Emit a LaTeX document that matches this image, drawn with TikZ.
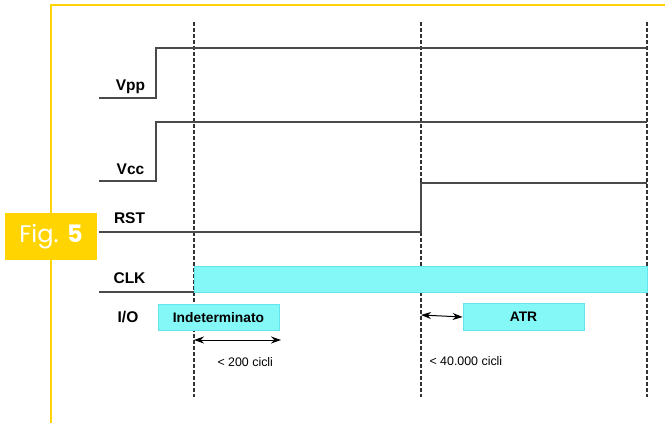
\documentclass[tikz,border=0pt]{standalone}
\usepackage{fontspec}
\setmainfont{Liberation Sans}
\newfontfamily\figfont{Poppins}
\usetikzlibrary{arrows.meta}
\definecolor{frameyellow}{HTML}{FFD400}
\definecolor{sigcol}{HTML}{4A4A4A}
\definecolor{guidecol}{HTML}{333333}
\definecolor{cyanfill}{HTML}{84F7F7}
\definecolor{cyanedge}{HTML}{62E6EE}
\tikzset{
  sig/.style={draw=sigcol, line width=1.8pt},
  guide/.style={draw=guidecol, line width=1.5pt, dash pattern=on 3.6pt off 2.4pt},
  bar/.style={fill=cyanfill, draw=cyanedge, line width=0.8pt},
  siglabel/.style={font=\bfseries\fontsize{15.5}{15.5}\selectfont, anchor=base},
  boxlabel/.style={font=\bfseries\fontsize{13.8}{14}\selectfont},
  note/.style={font=\fontsize{12.4}{13}\selectfont, anchor=base west},
  span/.style={draw=sigcol, line width=1pt, {Stealth[length=10pt,width=7pt]}-{Stealth[length=10pt,width=7pt]}, black}
}
\begin{document}
\begin{tikzpicture}[x=1pt, y=-1pt]
\useasboundingbox (0,0) rectangle (665,423);

% frame
\draw[frameyellow, line width=1.5pt] (51,423) -- (51,5) -- (665,5);

% caption tab
\node[fill=frameyellow, minimum width=92pt, minimum height=47pt, inner sep=0pt,
      text=white, font=\figfont\fontsize{24}{24}\selectfont] (fig) at (51,236.5)
  {Fig. \textbf{5}};

% time markers
\coordinate (t0top) at (194,22);   \coordinate (t0bot) at (194,397);
\coordinate (t1top) at (421,22);   \coordinate (t1bot) at (421,397);
\coordinate (t2top) at (647,22);   \coordinate (t2bot) at (647,397);
\draw[guide] (t0top) -- (t0bot);
\draw[guide] (t1top) -- (t1bot);
\draw[guide] (t2top) -- (t2bot);

% signal names
\node[siglabel] (vpp) at (130.5,90) {Vpp};
\node[siglabel] (vcc) at (130.5,174) {Vcc};
\node[siglabel] (rst) at (129.5,223) {RST};
\node[siglabel] (clk) at (129.5,283) {CLK};
\node[siglabel] (io)  at (128,322) {I/O};

% Vpp
\coordinate (vppA) at (99,98);  \coordinate (vppB) at (156,98);
\coordinate (vppC) at (156,48); \coordinate (vppD) at (647,48);
\draw[sig] (vppA) -- (vppB) -- (vppC) -- (vppD);

% Vcc
\coordinate (vccA) at (99,181);  \coordinate (vccB) at (156,181);
\coordinate (vccC) at (156,122); \coordinate (vccD) at (647,122);
\draw[sig] (vccA) -- (vccB) -- (vccC) -- (vccD);

% RST
\coordinate (rstA) at (99,232);  \coordinate (rstB) at (421,232);
\coordinate (rstC) at (421,183); \coordinate (rstD) at (647,183);
\draw[sig] (rstA) -- (rstB) -- (rstC) -- (rstD);

% CLK
\coordinate (clkA) at (99,292);  \coordinate (clkB) at (194,292);
\draw[sig] (clkA) -- (clkB);
\draw[bar] (194,266) rectangle (647,292);

% I/O
\node[bar, boxlabel, minimum width=121pt, minimum height=26pt, inner sep=0pt]
  (indet) at (218.5,317.5) {Indeterminato};
\node[bar, boxlabel, minimum width=121pt, minimum height=27pt, inner sep=0pt]
  (atr) at (523.5,317) {ATR};

% timing limits
\coordinate (s0a) at (194,340); \coordinate (s0b) at (281,340);
\draw[span] (s0a) -- (s0b);
\coordinate (s1a) at (421,315);
\draw[span] (s1a) -- (atr.west);

\node[note] (n200) at (214,366) {< 200 cicli};
\node[note] (n40k) at (426,365) {< 40.000 cicli};
\end{tikzpicture}
\end{document}
